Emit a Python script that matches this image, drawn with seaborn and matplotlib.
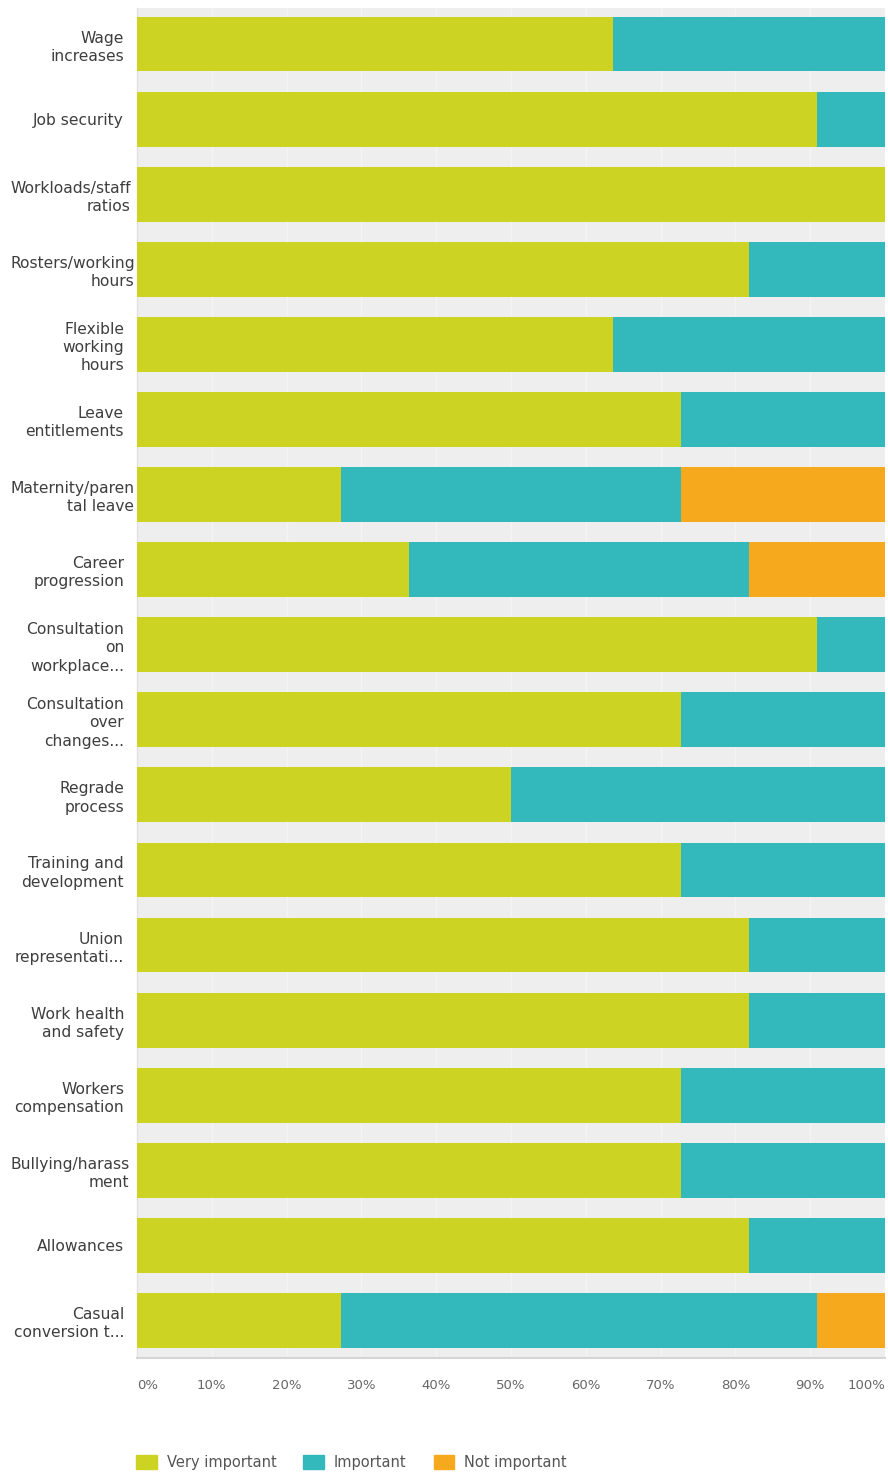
import matplotlib
matplotlib.use("Agg")
import matplotlib.pyplot as plt
import matplotlib.patches as mpatches
import seaborn as sns
import pandas as pd
import numpy as np

categories = [
    "Wage\nincreases", "Job security", "Workloads/staff\nratios", "Rosters/working\nhours",
    "Flexible\nworking\nhours", "Leave\nentitlements", "Maternity/paren\ntal leave",
    "Career\nprogression", "Consultation\non\nworkplace...", "Consultation\nover\nchanges...",
    "Regrade\nprocess", "Training and\ndevelopment", "Union\nrepresentati...",
    "Work health\nand safety", "Workers\ncompensation", "Bullying/harass\nment",
    "Allowances", "Casual\nconversion t...",
]
very_important = [63.6, 90.9, 100.0, 81.8, 63.6, 72.7, 27.3, 36.4, 90.9, 72.7, 50.0, 72.7, 81.8, 81.8, 72.7, 72.7, 81.8, 27.3]
important      = [36.4, 9.1, 0.0, 18.2, 36.4, 27.3, 45.4, 45.4, 9.1, 27.3, 50.0, 27.3, 18.2, 18.2, 27.3, 27.3, 18.2, 63.6]
not_important  = [0.0, 0.0, 0.0, 0.0, 0.0, 0.0, 27.3, 18.2, 0.0, 0.0, 0.0, 0.0, 0.0, 0.0, 0.0, 0.0, 0.0, 9.1]
series_names = ["Very important", "Important", "Not important"]
x_ticks = [0, 10, 20, 30, 40, 50, 60, 70, 80, 90, 100]
x_tick_labels = ["0%", "10%", "20%", "30%", "40%", "50%", "60%", "70%", "80%", "90%", "100%"]

colors = ["#cdd323", "#33b9bc", "#f6a91c"]

df = pd.DataFrame({
    "category": categories,
    "very": very_important,
    "imp": important,
    "not": not_important,
})
df["c1"] = df["very"]
df["c2"] = df["very"] + df["imp"]
df["c3"] = df["very"] + df["imp"] + df["not"]

sns.set_theme(style="white")
plt.rcParams["font.family"] = ["DejaVu Sans"]

DPI = 100
fig = plt.figure(figsize=(8.88, 14.75), dpi=DPI)
ax_left_px = 137
ax = fig.add_axes([ax_left_px/888, 1 - 1358/1475, (885-137)/888, (1358-8)/1475])
ax.set_facecolor("#eeeeee")

for col, c in zip(["c3", "c2", "c1"], colors[::-1]):
    sns.barplot(data=df, x=col, y="category", orient="h", color=c, width=0.73,
                saturation=1, ax=ax, order=categories, zorder=3, linewidth=0,
                edgecolor=c)

ax.set_xlim(0, 100)
ax.set_ylim(len(categories) - 0.5, -0.48)
ax.set_xticks(x_ticks)
ax.set_xticklabels(x_tick_labels)
ax.set_xlabel("")
ax.set_ylabel("")
ax.grid(axis="x", color="#f4f4f4", linewidth=1, zorder=0)
ax.set_axisbelow(True)
ax.yaxis.set_zorder(5)
ax.tick_params(axis="x", length=0, pad=15, labelsize=9.5, labelcolor="#666666")
ax.tick_params(axis="y", length=0, pad=9.4, labelsize=11.2, labelcolor="#3e3e3e")
for lbl in ax.get_yticklabels():
    lbl.set_multialignment("right")
    lbl.set_linespacing(1.27)
xl = ax.get_xticklabels()
xl[0].set_ha("left")
xl[-1].set_ha("right")
for s in ["top", "right"]:
    ax.spines[s].set_visible(False)
ax.spines["left"].set_color("#e2e2e2")
ax.spines["bottom"].set_color("#d5d5d5")
ax.spines["left"].set_linewidth(1)
ax.spines["bottom"].set_linewidth(1.5)

handles = [mpatches.Patch(color=c, label=n) for c, n in zip(colors, series_names)]
fig.legend(handles=handles, loc="center left", bbox_to_anchor=(123/888, 13/1475),
           ncol=3, frameon=False, fontsize=10.5, handlelength=1.4, handleheight=1.1,
           handletextpad=0.7, columnspacing=1.85, labelcolor="#555555")

# long labels overflow to the right, as in the reference (left edge kept at ~10px)
fig.canvas.draw()
renderer = fig.canvas.get_renderer()
for tick in ax.yaxis.get_major_ticks():
    bb = tick.label1.get_window_extent(renderer)
    w = bb.width
    right_px = max(124, 10 + w)
    pad_px = ax_left_px - right_px
    tick.set_pad(pad_px * 72 / DPI)

fig.savefig("out.png", dpi=DPI)
